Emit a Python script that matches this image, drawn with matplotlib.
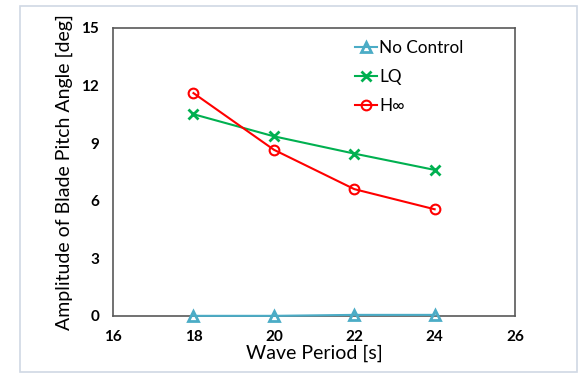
import matplotlib
matplotlib.use("Agg")
import matplotlib.pyplot as plt
from matplotlib.patches import Rectangle

plt.rcParams['font.family'] = ['Lato', 'DejaVu Sans']

period = [18, 20, 22, 24]
no_control = [0.0, 0.0, 0.05, 0.05]
lq = [10.5, 9.35, 8.45, 7.6]
h_inf = [11.6, 8.65, 6.6, 5.55]

fig = plt.figure(figsize=(5.8, 3.76), dpi=100)
ax = fig.add_axes([0.195, 0.16, 0.693, 0.766])

# light frame around the whole chart
fig.patches.append(Rectangle((0.035, 0.01), 0.96, 0.975, transform=fig.transFigure,
                             fill=False, edgecolor='#d0d8e4', linewidth=1.2))

ax.plot(period, no_control, color='#4bacc6', marker='^', markersize=7,
        markerfacecolor='none', markeredgewidth=2, linewidth=1.5, label='No Control',
        clip_on=False, zorder=5)
ax.plot(period, lq, color='#00b050', marker='x', markersize=7,
        markeredgewidth=2, linewidth=1.5, label='LQ')
ax.plot(period, h_inf, color='#ff0000', marker='o', markersize=7,
        markerfacecolor='none', markeredgewidth=1.5, linewidth=1.5, label='H∞')

ax.set_xlim(16, 26)
ax.set_ylim(0, 15)
ax.set_xticks([16, 18, 20, 22, 24, 26])
ax.set_yticks([0, 3, 6, 9, 12, 15])
ax.tick_params(length=0, labelsize=11, pad=10)
for lbl in ax.get_xticklabels() + ax.get_yticklabels():
    lbl.set_fontweight('bold')
for s in ax.spines.values():
    s.set_color('#595959')
    s.set_linewidth(1.2)

ax.set_xlabel('Wave Period [s]', fontsize=14, labelpad=1)
ax.set_ylabel('Amplitude of Blade Pitch Angle [deg]', fontsize=14, labelpad=6)

ax.legend(loc='upper right', bbox_to_anchor=(0.91, 1.01), frameon=False, fontsize=12.3,
          handlelength=1.3, handletextpad=0.1, labelspacing=0.75)

fig.savefig('out.png', dpi=100)
